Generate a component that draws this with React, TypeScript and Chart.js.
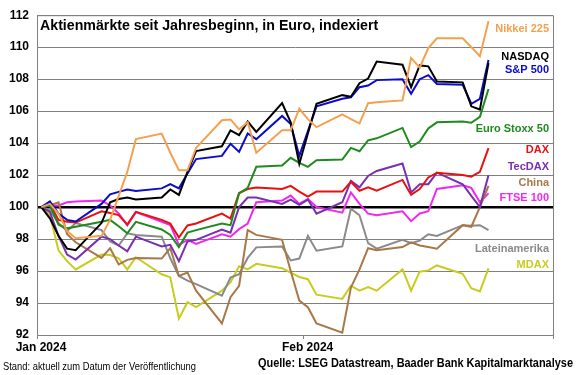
import { useEffect, useRef } from "react";
import { Chart, registerables } from "chart.js";

Chart.register(...registerables);

// Trading days, as day of year 2024 (0 = 1 Jan)
const dayOfYear = [0, 1, 2, 3, 4, 7, 8, 9, 10, 11, 14, 15, 16, 17, 18, 21, 22, 23, 24, 25, 28, 29, 30, 31, 32, 35, 36, 37, 38, 39, 42, 43, 44, 45, 46, 49, 50, 51, 52];

const nikkei = [100, 100.2, 99.6, 98.5, 98.05, 98.2, 99.2, 100.7, 102.2, 104.25, 104.6, 103.4, 102.3, 102.3, 103.7, 105.43, 105.48, 104.86, 105.3, 103.4, 104.8, 104.8, 106.15, 105.5, 105.0, 105.8, 105.5, 105.23, 106.5, 106.56, 106.67, 109.33, 108.72, 109.95, 110.56, 110.56, 110.0, 109.43, 111.63];
const nasdaq = [100, 99.3, 98.2, 97.4, 97.3, 99.0, 100.3, 100.5, 100.6, 100.47, 100.6, 101.1, 100.76, 102.2, 103.5, 103.8, 104.8, 104.5, 105.35, 104.7, 106.5, 105.3, 102.7, 104.6, 106.46, 107.0, 106.9, 107.75, 108.04, 109.1, 108.9, 107.5, 108.86, 108.8, 107.86, 107.8, 106.3, 106.1, 109.0];
const sp500 = [100, 100.35, 99.6, 99.2, 99.1, 100.2, 100.8, 100.95, 101.1, 101.0, 101.17, 101.43, 101.17, 102.1, 103.0, 103.2, 103.96, 103.45, 104.6, 104.25, 105.7, 105.2, 103.2, 104.75, 106.3, 106.77, 106.87, 107.5, 107.6, 107.94, 108.0, 107.08, 108.0, 108.25, 107.7, 107.65, 106.46, 106.77, 109.2];
const euroStoxx50 = [100, 100.1, 98.9, 98.67, 98.77, 99.08, 99.2, 98.8, 98.36, 99.08, 98.6, 98.26, 97.5, 98.4, 98.56, 98.97, 98.87, 100.86, 101.2, 102.52, 102.6, 103.08, 102.77, 102.52, 102.93, 102.97, 103.7, 103.49, 104.17, 104.3, 104.95, 103.75, 104.1, 104.92, 105.3, 105.35, 105.27, 105.64, 107.38];
const dax = [100, 100.2, 99.2, 99.08, 99.03, 99.74, 99.63, 99.5, 98.9, 99.7, 99.2, 98.97, 98.1, 98.85, 98.97, 99.59, 99.28, 100.88, 101.13, 101.23, 101.13, 101.33, 100.97, 100.66, 100.97, 100.97, 101.58, 101.02, 101.23, 101.02, 101.7, 100.76, 101.13, 101.85, 102.15, 102.0, 101.9, 102.2, 103.69];
const tecdax = [100, 99.7, 98.2, 97.03, 96.72, 98.15, 98.0, 97.6, 97.23, 98.15, 97.54, 97.64, 96.62, 97.85, 97.95, 98.6, 98.4, 100.0, 100.6, 100.6, 100.2, 100.47, 100.14, 100.47, 99.59, 100.3, 101.64, 101.23, 101.95, 102.26, 102.73, 100.92, 101.43, 101.43, 102.15, 101.43, 100.7, 100.0, 101.99];
const china = [100, 100.1, 100.3, 98.3, 97.8, 96.82, 97.43, 96.41, 96.7, 96.82, 96.78, 97.43, 95.69, 95.9, 94.77, 92.72, 94.36, 95.08, 98.56, 98.26, 97.95, 96.0, 94.15, 93.74, 92.72, 92.15, 94.97, 96.1, 97.43, 97.3, 97.5, 97.8, 97.6, 97.5, 97.4, 98.87, 98.77, 100.0, 101.33];
const ftse100 = [100, 100.1, 100.1, 100.3, 100.35, 100.41, 100.1, 99.6, 98.87, 99.69, 99.08, 98.87, 97.64, 97.95, 97.7, 98.3, 98.15, 98.62, 98.97, 100.3, 100.41, 100.72, 100.2, 100.5, 100.0, 99.65, 100.92, 100.2, 99.59, 99.49, 99.74, 99.12, 99.6, 99.74, 101.13, 101.37, 101.2, 100.3, 100.86];
const lateinamerika = [100, 99.8, 99.0, 98.5, 99.0, 98.56, 97.85, 97.6, 98.36, 98.26, 98.15, 96.8, 95.69, 95.4, 95.18, 94.46, 95.59, 95.8, 96.82, 97.48, 97.54, 96.66, 96.78, 98.2, 97.27, 97.54, 99.9, 99.49, 97.74, 97.4, 97.95, 97.74, 97.9, 98.3, 98.2, 98.87, 98.83, 98.87, 98.56];
const mdax = [100, 99.5, 97.3, 96.62, 96.1, 97.03, 97.0, 96.8, 96.1, 96.86, 95.8, 95.6, 93.03, 94.05, 93.74, 94.77, 95.3, 96.3, 96.1, 96.45, 96.17, 95.9, 95.63, 95.49, 94.52, 94.26, 95.08, 94.77, 95.0, 94.77, 96.1, 94.77, 95.96, 96.04, 96.35, 95.83, 94.93, 94.73, 96.17];

const seriesNames = ["Nikkei 225", "NASDAQ", "S&P 500", "Euro Stoxx 50", "DAX", "TecDAX", "China", "FTSE 100", "Lateinamerika", "MDAX"];
const seriesValues = [nikkei, nasdaq, sp500, euroStoxx50, dax, tecdax, china, ftse100, lateinamerika, mdax];
// Where each series name is written, in index units
const seriesLabelLevels = [111.15, 109.4, 108.55, 104.9, 103.55, 102.5, 101.5, 100.6, 97.4, 96.4];

const xTickDays = [0, 31, 60];
const xTickLabels = ["Jan 2024", "Feb 2024", ""];
const yMin = 92;
const yMax = 112;
const yStep = 2;
const baseLevel = 100;

const titleText = "Aktienmärkte seit Jahresbeginn, in Euro, indexiert";
const standText = "Stand: aktuell zum Datum der Veröffentlichung";
const sourceText = "Quelle: LSEG Datastream, Baader Bank Kapitalmarktanalyse";

const colors = ["#F4A04F", "#000000", "#0A0AD2", "#1E8B1E", "#E81010", "#7A2EB0", "#A87848", "#F028F0", "#8A8A8A", "#C8CC1E"];
const FONT = 'Arial, "Liberation Sans", sans-serif';

export default function App() {
  const canvasRef = useRef<HTMLCanvasElement>(null);

  useEffect(() => {
    const canvas = canvasRef.current;
    if (!canvas) return;

    const datasets = seriesNames.map((name, i) => ({
      label: name,
      data: dayOfYear.map((d, j) => ({ x: d + 0.5, y: seriesValues[i][j] })),
      borderColor: colors[i],
      backgroundColor: colors[i],
      borderWidth: 2,
      pointRadius: 0,
      tension: 0,
      fill: false,
    }));

    const decor = {
      id: "decor",
      beforeDatasetsDraw(chart: any) {
        const { ctx, chartArea: a } = chart;
        ctx.save();
        ctx.strokeStyle = "#808080";
        ctx.lineWidth = 1;
        ctx.beginPath();
        ctx.moveTo(a.left, a.top + 0.5);
        ctx.lineTo(a.right + 0.5, a.top + 0.5);
        ctx.lineTo(a.right + 0.5, a.bottom);
        ctx.stroke();
        ctx.restore();
      },
      afterDatasetsDraw(chart: any) {
        const { ctx, chartArea: a, scales } = chart;
        ctx.save();
        // title
        ctx.fillStyle = "#000";
        ctx.font = `bold 14.2px ${FONT}`;
        ctx.textAlign = "left";
        ctx.textBaseline = "middle";
        ctx.fillText(titleText, a.left + 3, a.top + 11);
        // series names
        ctx.font = `bold 11px ${FONT}`;
        ctx.textAlign = "right";
        seriesNames.forEach((n, i) => {
          ctx.fillStyle = colors[i];
          ctx.fillText(n, a.right - 4, scales.y.getPixelForValue(seriesLabelLevels[i]));
        });
        ctx.restore();
      },
      afterDraw(chart: any) {
        const { ctx, width, height } = chart;
        ctx.save();
        ctx.fillStyle = "#000";
        ctx.textBaseline = "middle";
        ctx.textAlign = "left";
        ctx.font = `10.5px ${FONT}`;
        ctx.fillText(standText, 3, height - 8, 193);
        ctx.textAlign = "right";
        ctx.font = `bold 12px ${FONT}`;
        ctx.fillText(sourceText, width - 7, height - 11, 315);
        ctx.restore();
      },
    };

    const chart = new Chart(canvas, {
      type: "line",
      data: { datasets },
      options: {
        animation: false,
        responsive: false,
        layout: { padding: { top: 10, right: 27, bottom: 20, left: 0 } },
        plugins: { legend: { display: false }, tooltip: { enabled: false }, title: { display: false } },
        scales: {
          x: {
            type: "linear",
            min: xTickDays[0],
            max: xTickDays[xTickDays.length - 1],
            afterBuildTicks: (scale: any) => {
              scale.ticks = xTickDays.map((v) => ({ value: v }));
            },
            afterFit: (scale: any) => {
              scale.height = 20;
            },
            ticks: {
              autoSkip: false,
              maxRotation: 0,
              padding: 1,
              labelOffset: 4,
              color: "#000",
              font: { family: FONT, size: 12, weight: "bold" },
              callback: (v: any) => {
                const k = xTickDays.indexOf(Number(v));
                return k >= 0 ? xTickLabels[k] : "";
              },
            },
            grid: { drawOnChartArea: false, drawTicks: true, tickLength: 4, color: "#808080" },
            border: { display: true, color: "#808080", width: 1 },
          },
          y: {
            min: yMin,
            max: yMax,
            afterFit: (scale: any) => {
              scale.width = 37;
            },
            ticks: {
              stepSize: yStep,
              padding: 8,
              color: "#000",
              font: { family: FONT, size: 12, weight: "bold" },
            },
            grid: {
              drawTicks: false,
              color: (c: any) => (c.tick && c.tick.value === baseLevel ? "#000000" : "#808080"),
              lineWidth: (c: any) => (c.tick && c.tick.value === baseLevel ? 2.5 : 1),
            },
            border: { display: true, color: "#808080", width: 1 },
          },
        },
      },
      plugins: [decor],
    });

    return () => chart.destroy();
  }, []);

  return (
    <div style={{ position: "absolute", left: 0, top: 0, width: 580, height: 375, background: "#fff" }}>
      <canvas ref={canvasRef} width={580} height={375} style={{ display: "block" }} />
    </div>
  );
}
